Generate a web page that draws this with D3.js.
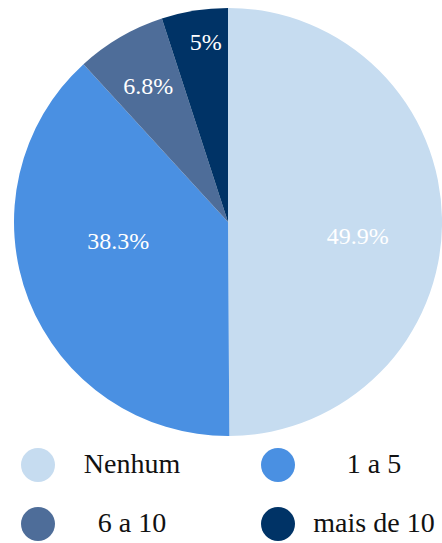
<!DOCTYPE html>
<html>
<head>
<meta charset="utf-8">
<script src="https://cdn.jsdelivr.net/npm/d3@7"></script>
<style>
  body { margin: 0; background: #fff; }
  svg text { font-family: "Liberation Serif", serif; }
</style>
</head>
<body>
<svg id="chart" width="442" height="543">
  <text x="0" y="0" opacity="0">Nenhum 0123456789%.</text>
</svg>
<script>
var categories = ["Nenhum", "1 a 5", "6 a 10", "mais de 10"];
var values = [49.9, 38.3, 6.8, 5];
var colors = ["#c6dcf0", "#4a90e2", "#4e6d99", "#003366"];

// label placement per slice (radius fraction, angle nudge in degrees)
var labelPlace = [[0.61, 6], [0.52, 12], [0.74, 0], [0.85, 2]];

var svg = d3.select("#chart");
var cx = 228, cy = 222, radius = 214;

var pie = d3.pie().sort(null).value(function(d) { return d; });
var arcs = pie(values);

var arc = d3.arc().innerRadius(0).outerRadius(radius);

var g = svg.append("g").attr("transform", "translate(" + cx + "," + cy + ")");

g.selectAll("path")
    .data(arcs)
    .enter().append("path")
    .attr("d", arc)
    .attr("fill", function(d, i) { return colors[i]; });

g.selectAll(".lbl")
    .data(arcs)
    .enter().append("text")
    .attr("class", "lbl")
    .attr("transform", function(d, i) {
        var a = (d.startAngle + d.endAngle) / 2 + labelPlace[i][1] * Math.PI / 180;
        var r = radius * labelPlace[i][0];
        return "translate(" + (Math.sin(a) * r) + "," + (-Math.cos(a) * r) + ")";
    })
    .attr("text-anchor", "middle")
    .attr("dy", "0.35em")
    .attr("fill", "#fff")
    .attr("font-size", 24)
    .text(function(d) { return d.data + "%"; });

// legend, 2 columns
var colX = d3.scaleOrdinal().domain([0, 1]).range([38, 278]);
var textX = d3.scaleOrdinal().domain([0, 1]).range([132, 374]);
var rowY = d3.scaleOrdinal().domain([0, 1]).range([465, 524]);

var leg = svg.append("g").selectAll("g")
    .data(categories)
    .enter().append("g");

leg.append("circle")
    .attr("cx", function(d, i) { return colX(i % 2); })
    .attr("cy", function(d, i) { return rowY(Math.floor(i / 2)); })
    .attr("r", 17)
    .attr("fill", function(d, i) { return colors[i]; });

leg.append("text")
    .attr("x", function(d, i) { return textX(i % 2); })
    .attr("y", function(d, i) { return rowY(Math.floor(i / 2)) + 8; })
    .attr("text-anchor", "middle")
    .attr("font-size", 28)
    .attr("fill", "#111")
    .text(function(d) { return d; });
</script>
</body>
</html>
